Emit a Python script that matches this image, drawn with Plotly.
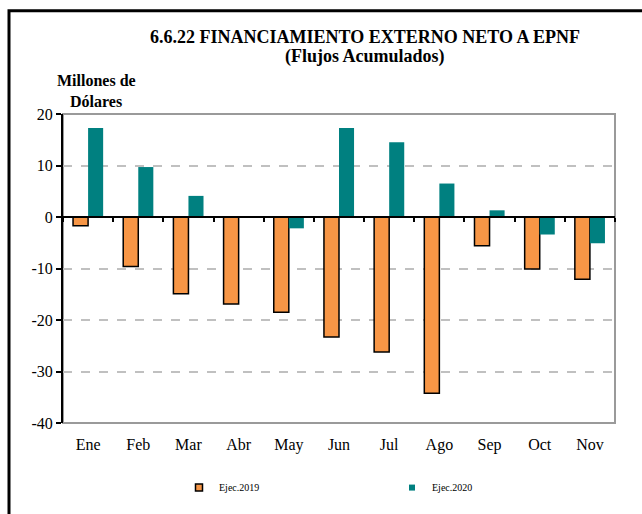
import plotly.graph_objects as go

meses = ["Ene", "Feb", "Mar", "Abr", "May", "Jun", "Jul", "Ago", "Sep", "Oct", "Nov"]
ejec_2019 = [-1.7, -9.6, -14.9, -16.9, -18.5, -23.3, -26.2, -34.2, -5.6, -10.1, -12.1]
ejec_2020 = [17.3, 9.7, 4.1, 0.1, -2.2, 17.3, 14.5, 6.5, 1.3, -3.4, -5.1]
y_ticks = [20, 10, 0, -10, -20, -30, -40]
y_labels = ["20", "10", "0", "-10", "-20", "-30", "-40"]

SERIF = "Liberation Serif"
W, H = 642, 514
ML, MR, MT, MB = 63, 27, 114, 89
PW, PH = W - ML - MR, H - MT - MB
ORANGE, TEAL = "#F79646", "#008080"


def px_x(x):
    return (x - ML) / PW


def px_y(y):
    return (H - MB - y) / PH


fig = go.Figure()
fig.add_trace(go.Bar(
    x=meses, y=ejec_2019, name="Ejec.2019", showlegend=False,
    marker=dict(color=ORANGE, line=dict(color="#000000", width=1.5)),
))
fig.add_trace(go.Bar(
    x=meses, y=ejec_2020, name="Ejec.2020", showlegend=False,
    marker=dict(color=TEAL, line=dict(color=TEAL, width=0)),
))
# compact legend keys
fig.add_trace(go.Scatter(
    x=[None], y=[None], mode="markers", name="Ejec.2019",
    marker=dict(symbol="square", size=7, color=ORANGE, line=dict(color="black", width=1.5)),
))
fig.add_trace(go.Scatter(
    x=[None], y=[None], mode="markers", name="Ejec.2020",
    marker=dict(symbol="square", size=6, color=TEAL, line=dict(width=0)),
))
# helper trace for the zero-line axis with category-boundary ticks
fig.add_trace(go.Scatter(x=[None], y=[None], xaxis="x2", showlegend=False, hoverinfo="skip"))

fig.update_layout(
    width=W, height=H,
    margin=dict(l=ML, r=MR, t=MT, b=MB),
    paper_bgcolor="white", plot_bgcolor="white",
    barmode="group", bargap=0.4, bargroupgap=0,
    font=dict(family=SERIF, color="black"),
    showlegend=True,
    legend=dict(
        orientation="h", x=px_x(179), y=px_y(490), xanchor="left", yanchor="middle",
        font=dict(family=SERIF, size=10), itemwidth=30,
        entrywidth=168, entrywidthmode="pixels", bgcolor="rgba(0,0,0,0)",
    ),
    xaxis=dict(
        type="category", range=[-0.5, 10.5],
        showline=False, ticks="", showgrid=False,
        tickfont=dict(family=SERIF, size=16), ticklabelstandoff=10,
    ),
    xaxis2=dict(
        type="linear", range=[-0.5, 10.5], overlaying="x", anchor="free",
        position=2 / 3, side="bottom",
        showline=True, linecolor="black", linewidth=2,
        ticks="outside", ticklen=4, tickwidth=2, tickcolor="black",
        tickvals=[i + 0.5 for i in range(-1, 11)], showticklabels=False,
        showgrid=False, zeroline=False,
    ),
    yaxis=dict(
        range=[-40, 20], tickvals=y_ticks, ticktext=y_labels,
        showline=True, linecolor="black", linewidth=2,
        ticks="outside", ticklen=5, tickwidth=2, tickcolor="black",
        tickfont=dict(family=SERIF, size=16),
        showgrid=True, gridcolor="#C0C0C0", gridwidth=1.5, griddash="dash",
        zeroline=False,
    ),
    shapes=[
        # plot-area border (top, right, bottom)
        dict(type="rect", xref="paper", yref="paper", x0=0, x1=1, y0=0, y1=1,
             line=dict(color="#9A9A9A", width=2), layer="below"),
        # outer frame of the chart
        dict(type="rect", xref="paper", yref="paper",
             x0=px_x(9), x1=1.3, y0=-0.6, y1=px_y(10),
             line=dict(color="black", width=3)),
    ],
    annotations=[
        dict(text="<b>6.6.22 FINANCIAMIENTO EXTERNO NETO A EPNF</b>",
             xref="paper", yref="paper", x=px_x(365), y=px_y(37),
             xanchor="center", yanchor="middle",
             showarrow=False, font=dict(family=SERIF, size=18)),
        dict(text="<b>(Flujos Acumulados)</b>",
             xref="paper", yref="paper", x=px_x(365), y=px_y(56),
             xanchor="center", yanchor="middle",
             showarrow=False, font=dict(family=SERIF, size=18)),
        dict(text="<b>Millones de</b>",
             xref="paper", yref="paper", x=px_x(96), y=px_y(80),
             xanchor="center", yanchor="middle",
             showarrow=False, font=dict(family=SERIF, size=16)),
        dict(text="<b>Dólares</b>",
             xref="paper", yref="paper", x=px_x(96), y=px_y(101),
             xanchor="center", yanchor="middle",
             showarrow=False, font=dict(family=SERIF, size=16)),
    ],
)

fig.write_html("out.html")
